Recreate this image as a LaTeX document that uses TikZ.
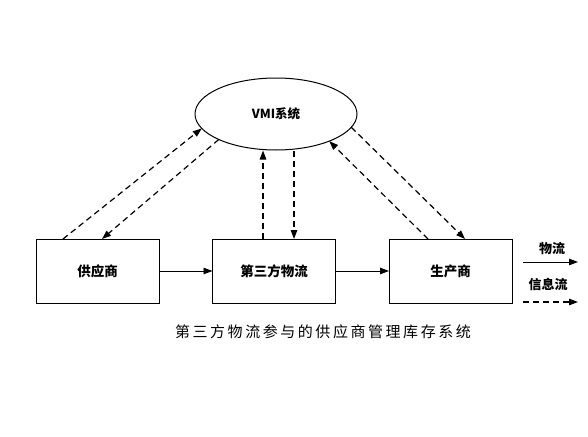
\documentclass[tikz,border=0pt]{standalone}
\usepackage{fontspec}
\newfontfamily\cjk{Noto Sans CJK SC}
\newfontfamily\capfont{Noto Sans CJK SC}[LetterSpace=17]
\usetikzlibrary{calc, arrows.meta, shapes.geometric}
\tikzset{
    box/.style={line width=1pt, draw=black, minimum height=64pt, minimum width=123pt, inner sep=0pt, outer sep=0pt, font=\cjk\bfseries\fontsize{13.5}{15}\selectfont},
    flow/.style={line width=0.9pt, -{Triangle[length=9pt,width=6.5pt]}},
    info/.style={line width=1.2pt, dash pattern=on 6pt off 4pt, -{Triangle[length=9pt,width=6.5pt]}},
}

\begin{document}
\begin{tikzpicture}[x=1pt, y=-1pt]
    \useasboundingbox (0,0) rectangle (588,436);
    \newcommand\posY{271}

    \node[ellipse, draw=black, line width=1pt, minimum width=162pt, minimum height=72pt, inner sep=0pt, outer sep=0pt, font=\cjk\bfseries\fontsize{12.5}{14}\selectfont] (vmi) at (276,114){VMI系统};
    \node[box] (sup) at (97.5,\posY){供应商};
    \node[box] (tpl) at (274,\posY){第三方物流};
    \node[box] (mfr) at (450.5,\posY){生产商};

    % material flow
    \draw[flow] (sup) -- (tpl);
    \draw[flow] (tpl) -- (mfr);

    % information flow
    \draw[info] ($(sup.north west)+(27,0)$) -- (vmi.191);
    \draw[info] (vmi.204) -- ($(sup.north west)+(66,0)$);
    \draw[info] ($(tpl.north)+(-11,0)$) -- ($(vmi.south)+(-13,0.5)$);
    \draw[info] ($(vmi.south)+(18,1)$) -- ($(tpl.north)+(20,0)$);
    \draw[info] ($(mfr.north west)+(39,0)$) -- (vmi.333);
    \draw[info] (vmi.350) -- ($(mfr.north west)+(76,0)$);

    % legend
    \node[font=\cjk\bfseries\fontsize{13}{15}\selectfont] (labWL) at (552,249){物流};
    \coordinate (wlA) at (523,262);
    \coordinate (wlB) at (578,262);
    \draw[flow] (wlA) -- (wlB);
    \node[font=\cjk\bfseries\fontsize{13}{15}\selectfont] (labXX) at (548,285){信息流};
    \coordinate (xxA) at (523,302);
    \coordinate (xxB) at (578,302);
    \draw[info] (xxA) -- (xxB);

    \node[font=\capfont\fontsize{15}{17}\selectfont] (cap) at (323,332){第三方物流参与的供应商管理库存系统};
\end{tikzpicture}
\end{document}
